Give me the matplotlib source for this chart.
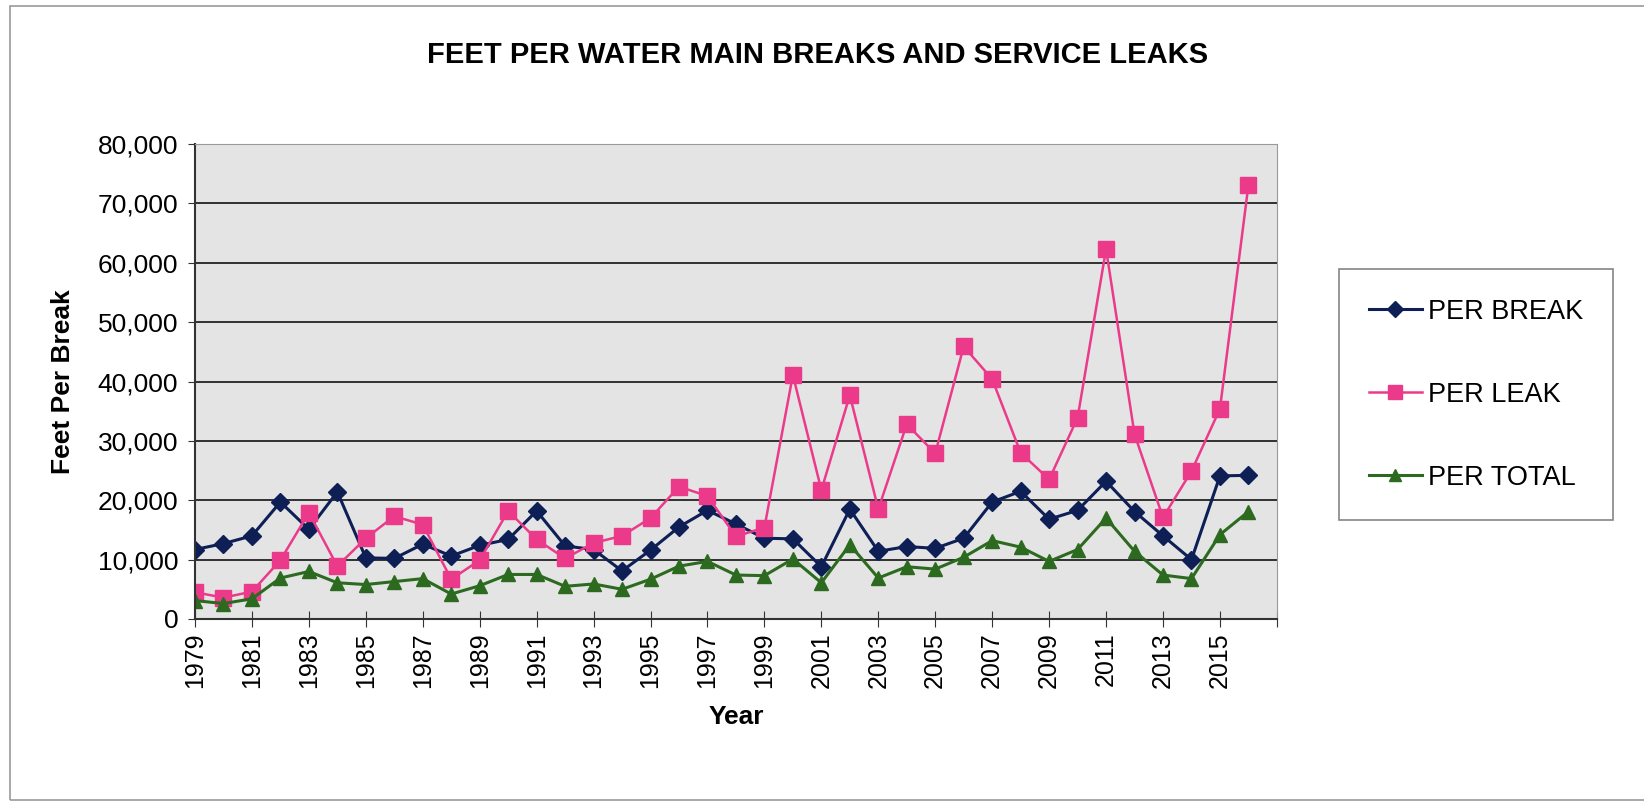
import numpy as np
import matplotlib.pyplot as plt
from matplotlib.patches import Rectangle

plt.rcParams['font.family'] = ['Liberation Sans', 'DejaVu Sans']

years = np.arange(1979, 2017)

per_break = [11700, 12700, 14000, 19700, 15100, 21400, 10300, 10200, 12600, 10600,
             12400, 13400, 18200, 12300, 11700, 8100, 11600, 15500, 18300, 16000,
             13600, 13500, 8800, 18500, 11400, 12200, 11900, 13600, 19700, 21500,
             16800, 18300, 23200, 18100, 14000, 10000, 24100, 24200]

per_leak = [4500, 3600, 4600, 9900, 17900, 8900, 13600, 17300, 15900, 6700,
            9900, 18200, 13400, 10200, 12800, 14000, 17000, 22300, 20700, 13900,
            15400, 41100, 21700, 37700, 18500, 32800, 27900, 45900, 40400, 28000,
            23500, 33900, 62300, 31100, 17100, 24900, 35400, 73100]

per_total = [3100, 2600, 3400, 6900, 8000, 6100, 5800, 6300, 6800, 4200,
             5600, 7500, 7500, 5500, 5900, 5000, 6700, 8900, 9700, 7400,
             7300, 10100, 6100, 12500, 6900, 8800, 8400, 10400, 13200, 12100,
             9700, 11700, 17000, 11400, 7400, 6800, 14200, 18100]

fig = plt.figure(figsize=(16.44, 8.02), dpi=100)
ax = fig.add_axes([0.1186, 0.2282, 0.6581, 0.5922])
ax.set_facecolor("#e4e4e4")

ax.plot(years, per_break, color="#0d1f55", marker="D", markersize=9, lw=2.2, label="PER BREAK")
ax.plot(years, per_leak, color="#ec3a8a", marker="s", markersize=11, lw=1.8, label="PER LEAK")
ax.plot(years, per_total, color="#2c6a1f", marker="^", markersize=10, lw=2.2, label="PER TOTAL")

ax.set_xlim(1979, 2017)
ax.set_ylim(0, 80000)
ax.set_yticks(np.arange(0, 80001, 10000))
ax.yaxis.set_major_formatter(plt.FuncFormatter(lambda v, p: f"{int(v):,}"))
xt = np.arange(1979, 2018, 2)
ax.set_xticks(xt)
ax.set_xticklabels([str(y) if y <= years[-1] else "" for y in xt], rotation=90)
ax.tick_params(axis="y", labelsize=19, length=5, pad=7, color="#333333")
ax.tick_params(axis="x", labelsize=18, direction="inout", length=12, color="#333333")
ax.grid(axis="y", color="black", lw=1.1)
ax.set_axisbelow(True)
for s in ["top", "right"]:
    ax.spines[s].set_color("#999999")
for s in ["left", "bottom"]:
    ax.spines[s].set_color("#333333")
    ax.spines[s].set_linewidth(1.5)

ax.set_xlabel("Year", fontsize=19, fontweight="bold", labelpad=12)
ax.set_ylabel("Feet Per Break", fontsize=19, fontweight="bold", labelpad=16)
fig.text(0.497, 0.931, "FEET PER WATER MAIN BREAKS AND SERVICE LEAKS",
         ha="center", va="center", fontsize=21, fontweight="bold")

leg = fig.legend(loc="upper left", bbox_to_anchor=(0.8145, 0.6646), borderaxespad=0,
                 fontsize=19.5, frameon=True, fancybox=False, edgecolor="#666666",
                 labelspacing=2.1, handlelength=1.95, handletextpad=0.22,
                 borderpad=1.1, markerscale=0.9)
leg.get_frame().set_linewidth(1.2)

fig.patches.append(Rectangle((0.006, 0.002), 1.1, 0.99, transform=fig.transFigure,
                             fill=False, edgecolor="#999999", lw=1.2))

fig.savefig("out.png", dpi=100)
